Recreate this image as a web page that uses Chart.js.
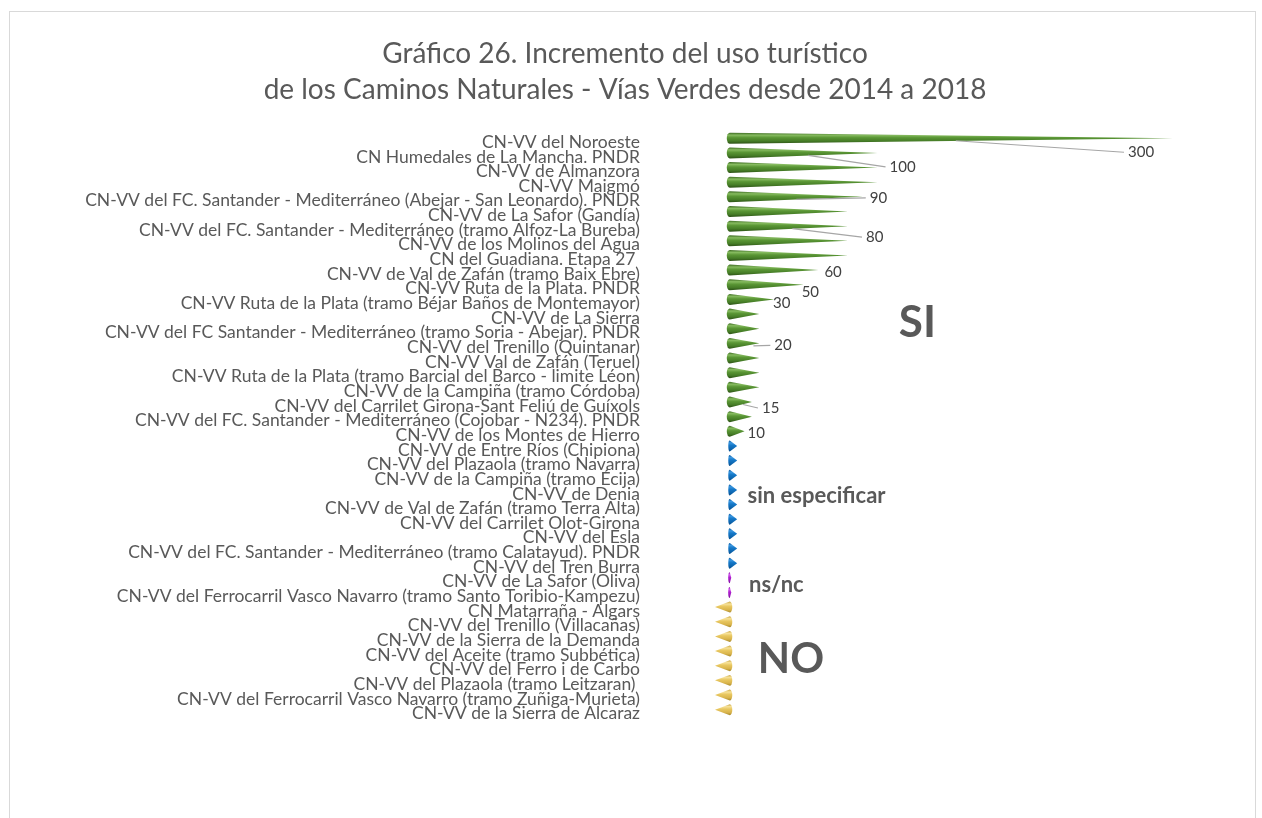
<!DOCTYPE html>
<html>
<head>
<meta charset="utf-8">
<script src="https://cdn.jsdelivr.net/npm/chart.js@4.4.1/dist/chart.umd.min.js"></script>
<style>
    html, body { margin: 0; padding: 0; background: #ffffff; }
    #wrap { position: relative; width: 1262px; height: 818px; }
</style>
</head>
<body>
<div id="wrap"><canvas id="chart"></canvas></div>
<script>
// Categories (top to bottom)
const categories = [
    'CN-VV del Noroeste',
    'CN Humedales de La Mancha. PNDR',
    'CN-VV de Almanzora',
    'CN-VV Maigmó',
    'CN-VV del FC. Santander - Mediterráneo (Abejar - San Leonardo). PNDR',
    'CN-VV de La Safor (Gandía)',
    'CN-VV del FC. Santander - Mediterráneo (tramo Alfoz-La Bureba)',
    'CN-VV de los Molinos del Agua',
    'CN del Guadiana. Etapa 27 ',
    'CN-VV de Val de Zafán (tramo Baix Ebre)',
    'CN-VV Ruta de la Plata. PNDR',
    'CN-VV Ruta de la Plata (tramo Béjar Baños de Montemayor)',
    'CN-VV de La Sierra',
    'CN-VV del FC Santander - Mediterráneo (tramo Soria - Abejar). PNDR',
    'CN-VV del Trenillo (Quintanar)',
    'CN-VV Val de Zafán (Teruel)',
    'CN-VV Ruta de la Plata (tramo Barcial del Barco - limite Léon)',
    'CN-VV de la Campiña (tramo Córdoba)',
    'CN-VV del Carrilet Girona-Sant Feliú de Guíxols',
    'CN-VV del FC. Santander - Mediterráneo (Cojobar - N234). PNDR',
    'CN-VV de los Montes de Hierro',
    'CN-VV de Entre Ríos (Chipiona)',
    'CN-VV del Plazaola (tramo Navarra)',
    'CN-VV de la Campiña (tramo Écija)',
    'CN-VV de Denia',
    'CN-VV de Val de Zafán (tramo Terra Alta)',
    'CN-VV del Carrilet Olot-Girona',
    'CN-VV del Esla',
    'CN-VV del FC. Santander - Mediterráneo (tramo Calatayud). PNDR',
    'CN-VV del Tren Burra',
    'CN-VV de La Safor (Oliva)',
    'CN-VV del Ferrocarril Vasco Navarro (tramo Santo Toribio-Kampezu)',
    'CN Matarraña - Algars',
    'CN-VV del Trenillo (Villacañas)',
    'CN-VV de la Sierra de la Demanda',
    'CN-VV del Aceite (tramo Subbética)',
    'CN-VV del Ferro i de Carbo',
    'CN-VV del Plazaola (tramo Leitzaran) ',
    'CN-VV del Ferrocarril Vasco Navarro (tramo Zuñiga-Murieta)',
    'CN-VV de la Sierra de Alcaraz'
];

// Increment values (% approx.), read from the cone lengths
const values = [
    300, 100, 100, 100, 90, 80, 80, 80, 80, 60,
    50, 30, 20, 20, 20, 20, 20, 20, 15, 15,
    10,
    5, 5, 5, 5, 5, 5, 5, 5, 5,
    1, 1,
    -10, -10, -10, -10, -10, -10, -10, -10
];

// Answer group of each category
const groups = [].concat(
    Array(21).fill('SI'),
    Array(9).fill('sin especificar'),
    Array(2).fill('ns/nc'),
    Array(8).fill('NO')
);

// Which bars carry a data label
const labelledBars = [0, 1, 4, 6, 9, 10, 11, 14, 18, 20];

// Styling
const FONT = 'Lato, "Open Sans", sans-serif';
const TEXT_GRAY = '#595959';

const palette = {
    'SI':              { stops: ['#3d6b22', '#86bb5f', '#5a9635', '#467d27', '#2c5116'], rx: 3 },
    'sin especificar': { stops: ['#0a5aa0', '#3b97e0', '#1578c8', '#0d66b0', '#084d8a'], rx: 1.5 },
    'ns/nc':           { stops: ['#8a0fa8', '#d45af0', '#b020d0', '#9c18bc', '#7a0c96'], rx: 1.6 },
    'NO':              { stops: ['#c9a640', '#f7e29a', '#e8c760', '#d9b44c', '#a88a2c'], rx: 2.5 }
};

// Label placement relative to the bar tip (px) and leader start (fraction of bar length)
const labelPlacement = {
    0:  { dx: -45, dy: 14, lead: 0.51 },
    1:  { dx: 12,  dy: 14, lead: 0.53 },
    4:  { dx: 7,   dy: 1,  lead: 0.5 },
    6:  { dx: 18,  dy: 11, lead: 0.53 },
    9:  { dx: 6,   dy: 2,  lead: null },
    10: { dx: -2,  dy: 7,  lead: null },
    11: { dx: -1,  dy: 4,  lead: null },
    14: { dx: 15,  dy: 2,  lead: 0.8 },
    18: { dx: 10,  dy: 6,  lead: 0.6 },
    20: { dx: 3,   dy: 2,  lead: null }
};

// Group captions: row position (category index) and x value
const groupCaptions = [
    { text: 'SI',              row: 12.6, x: 127, size: 44, align: 'center' },
    { text: 'sin especificar', row: 24.4, x: 12,  size: 22, align: 'left' },
    { text: 'ns/nc',           row: 30.5, x: 13,  size: 22, align: 'left' },
    { text: 'NO',              row: 35.6, x: 19,  size: 42, align: 'left' }
];

// Outer frame
const framePlugin = {
    id: 'frame',
    beforeDraw(chart) {
        const ctx = chart.ctx;
        ctx.save();
        ctx.strokeStyle = '#d9d9d9';
        ctx.lineWidth = 1;
        ctx.strokeRect(9.5, 11.5, 1246, 830);
        ctx.restore();
    }
};

// Draws every bar as a cone
const coneBars = {
    id: 'coneBars',
    afterDatasetsDraw(chart) {
        const ctx = chart.ctx;
        const meta = chart.getDatasetMeta(0);
        const zero = chart.scales.x.getPixelForValue(0);

        meta.data.forEach((bar, i) => {
            const pal = palette[groups[i]];
            const tip = bar.x;
            const yc = bar.y;
            const hh = bar.height / 2;
            const grad = ctx.createLinearGradient(0, yc - hh, 0, yc + hh);
            grad.addColorStop(0, pal.stops[0]);
            grad.addColorStop(0.22, pal.stops[1]);
            grad.addColorStop(0.45, pal.stops[2]);
            grad.addColorStop(0.75, pal.stops[3]);
            grad.addColorStop(1, pal.stops[4]);

            ctx.save();
            ctx.beginPath();
            ctx.moveTo(zero, yc - hh);
            ctx.lineTo(tip, yc);
            ctx.lineTo(zero, yc + hh);
            if (tip >= zero) {
                ctx.ellipse(zero, yc, pal.rx, hh, 0, Math.PI / 2, Math.PI * 1.5);
            } else {
                ctx.ellipse(zero, yc, pal.rx, hh, 0, Math.PI / 2, -Math.PI / 2, true);
            }
            ctx.closePath();
            ctx.fillStyle = grad;
            ctx.fill();
            ctx.restore();
        });
    }
};

// Data labels with leader lines
const valueLabels = {
    id: 'valueLabels',
    afterDatasetsDraw(chart) {
        const ctx = chart.ctx;
        const meta = chart.getDatasetMeta(0);
        const zero = chart.scales.x.getPixelForValue(0);

        ctx.save();
        ctx.font = '15px ' + FONT;
        ctx.textBaseline = 'middle';
        ctx.textAlign = 'left';
        labelledBars.forEach(i => {
            const bar = meta.data[i];
            const p = labelPlacement[i];
            const lx = bar.x + p.dx;
            const ly = bar.y + p.dy;
            if (p.lead !== null) {
                const sx = zero + (bar.x - zero) * p.lead;
                const sy = bar.y + bar.height / 2 - 3;
                ctx.strokeStyle = '#a6a6a6';
                ctx.lineWidth = 1.2;
                ctx.beginPath();
                ctx.moveTo(sx, sy);
                ctx.lineTo(lx - 4, ly);
                ctx.stroke();
            }
            ctx.fillStyle = '#404040';
            ctx.fillText(String(values[i]), lx, ly);
        });
        ctx.restore();
    }
};

// Group captions (SI / sin especificar / ns/nc / NO)
const captions = {
    id: 'captions',
    afterDraw(chart) {
        const ctx = chart.ctx;
        const xs = chart.scales.x;
        const ys = chart.scales.y;
        ctx.save();
        ctx.fillStyle = TEXT_GRAY;
        ctx.textBaseline = 'middle';
        groupCaptions.forEach(c => {
            ctx.font = 'bold ' + c.size + 'px ' + FONT;
            ctx.textAlign = c.align;
            ctx.fillText(c.text, xs.getPixelForValue(c.x), ys.getPixelForValue(c.row));
        });
        ctx.restore();
    }
};

const chart = new Chart(document.getElementById('chart').getContext('2d'), {
    type: 'bar',
    data: {
        labels: categories,
        datasets: [{
            data: values,
            backgroundColor: 'rgba(0,0,0,0)',
            borderWidth: 0,
            barPercentage: 0.75,
            categoryPercentage: 1
        }]
    },
    options: {
        indexAxis: 'y',
        responsive: true,
        maintainAspectRatio: false,
        animation: false,
        layout: {
            padding: { left: 77, right: 89, top: 0, bottom: 101 }
        },
        scales: {
            x: {
                display: false,
                min: -10,
                max: 300
            },
            y: {
                grid: { display: false, drawTicks: false },
                border: { display: false },
                afterFit(scale) { scale.width = 638; },
                ticks: {
                    autoSkip: false,
                    padding: 75,
                    labelOffset: 4,
                    color: TEXT_GRAY,
                    font: { family: FONT, size: 17.5 }
                }
            }
        },
        plugins: {
            legend: { display: false },
            tooltip: { enabled: false },
            title: {
                display: true,
                text: ['Gráfico 26. Incremento del uso turístico',
                       'de los Caminos Naturales - Vías Verdes desde 2014 a 2018'],
                color: TEXT_GRAY,
                font: { family: FONT, size: 28, weight: 'normal', lineHeight: 1.32 },
                padding: { top: 35, bottom: 22 }
            }
        }
    },
    plugins: [framePlugin, coneBars, valueLabels, captions]
});
</script>
</body>
</html>
